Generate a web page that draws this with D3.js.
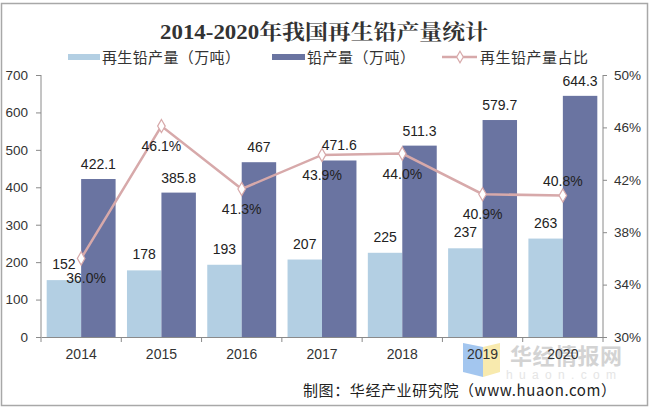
<!DOCTYPE html>
<html><head><meta charset="utf-8">
<script src="https://cdn.jsdelivr.net/npm/d3@7"></script>
<style>body{margin:0;background:#fff}svg{display:block}</style>
</head><body>
<svg id="c" width="650" height="410"></svg>
<script>
const years = ["2014","2015","2016","2017","2018","2019","2020"];
const recycled = [152,178,193,207,225,237,263];
const lead = [422.1,385.8,467,471.6,511.3,579.7,644.3];
const share = [36.0,46.1,41.3,43.9,44.0,40.9,40.8];
const leftTicks = [0,100,200,300,400,500,600,700];
const rightTicks = [30,34,38,42,46,50];
const seriesNames = ["再生铅产量（万吨）","铅产量（万吨）","再生铅产量占比"];

const W=650,H=410, m={l:41,r:47,t:75,b:73};
const svg=d3.select("#c");
const font="'Liberation Sans', Arial, 'Noto Sans CJK SC', sans-serif";
const cjk="'Noto Sans CJK SC', sans-serif";
const cLight="#b3cfe3", cDark="#6a74a1", cLine="#d7a9aa";

svg.append("rect").attr("x",1.5).attr("y",3.5).attr("width",646).attr("height",402)
  .attr("fill","#fff").attr("stroke","#a8a8a8").attr("stroke-width",1.5);

const x=d3.scaleBand().domain(years).range([m.l,W-m.r]).paddingInner(0).paddingOuter(0);
const xi=d3.scaleBand().domain(["r","l"]).range([0,x.bandwidth()]).paddingInner(0).paddingOuter(0.165);
const y=d3.scaleLinear().domain([0,700]).range([H-m.b,m.t]);
const y2=d3.scaleLinear().domain([30,50]).range([H-m.b,m.t]);

// title
svg.append("text").attr("x",160).attr("y",39)
  .attr("font-family","'Liberation Serif','Noto Serif CJK SC','Noto Sans CJK SC',serif").attr("font-weight","bold")
  .attr("font-size",21).attr("fill","#333").attr("textLength",328).attr("lengthAdjust","spacingAndGlyphs")
  .text("2014-2020年我国再生铅产量统计");

// legend
const lg=svg.append("g").attr("font-family",cjk).attr("font-size",15).attr("fill","#333");
lg.append("rect").attr("x",68).attr("y",54).attr("width",32).attr("height",6).attr("fill",cLight);
lg.append("text").attr("x",102).attr("y",63).attr("textLength",138).attr("lengthAdjust","spacing").text(seriesNames[0]);
lg.append("rect").attr("x",272).attr("y",54).attr("width",33).attr("height",6).attr("fill",cDark);
lg.append("text").attr("x",307).attr("y",63).attr("textLength",108).attr("lengthAdjust","spacing").text(seriesNames[1]);
lg.append("line").attr("x1",442).attr("x2",477).attr("y1",57).attr("y2",57).attr("stroke",cLine).attr("stroke-width",2.5);
lg.append("path").attr("d",d3.symbol(d3.symbolDiamond,38)()).attr("transform","translate(460,57)")
  .attr("fill","#fff").attr("stroke",cLine).attr("stroke-width",1.2);
lg.append("text").attr("x",480).attr("y",63).attr("textLength",108).attr("lengthAdjust","spacing").text(seriesNames[2]);

// watermark (behind axis labels)
const wm=svg.append("g").attr("opacity",0.8);
wm.append("path").attr("d","M463,343 L483,347 L483,377 L463,372 Z").attr("fill","#8db8ec");
wm.append("path").attr("d","M483,347 L500,343 L500,372 L483,377 Z").attr("fill","#f7e59a");
wm.append("text").attr("x",510).attr("y",364).attr("font-family",cjk).attr("font-size",22).attr("font-weight","bold")
  .attr("fill","#c9c9c9").attr("textLength",112).text("华经情报网");
wm.append("text").attr("x",506).attr("y",379).attr("font-family",font).attr("font-size",12).attr("textLength",110)
  .attr("fill","#e0e0e0").text("huaon.com");

// bars
const g=svg.append("g");
g.selectAll(".br").data(years).join("rect")
  .attr("x",d=>x(d)+xi("r")).attr("width",xi.bandwidth())
  .attr("y",(d,i)=>y(recycled[i])).attr("height",(d,i)=>y(0)-y(recycled[i])).attr("fill",cLight);
g.selectAll(".bl").data(years).join("rect").attr("class","bl")
  .attr("x",d=>x(d)+xi("l")).attr("width",xi.bandwidth())
  .attr("y",(d,i)=>y(lead[i])).attr("height",(d,i)=>y(0)-y(lead[i])).attr("fill",cDark);

// axes
const ax=svg.append("g").attr("font-family",font);
const ya=ax.append("g").attr("transform",`translate(${m.l},0)`).call(d3.axisLeft(y).tickValues(leftTicks).tickSize(5).tickPadding(8));
const ya2=ax.append("g").attr("transform",`translate(${W-m.r},0)`).call(d3.axisRight(y2).tickValues(rightTicks).tickSize(4).tickPadding(7).tickFormat(d=>d+"%"));
const xa=ax.append("g").attr("transform",`translate(0,${H-m.b})`).call(d3.axisBottom(x).tickSize(0).tickPadding(12));
xa.selectAll(".tick").append("line").attr("x1",-x.bandwidth()/2).attr("x2",-x.bandwidth()/2).attr("y2",5).attr("stroke","#888");
xa.append("line").attr("x1",W-m.r).attr("x2",W-m.r).attr("y2",5).attr("stroke","#888");
[ya,ya2,xa].forEach(a=>{
  a.selectAll(".domain").attr("stroke","#8a8a8a");
  a.selectAll(".tick line").attr("stroke","#8a8a8a");
  a.selectAll("text").attr("font-size",13.5).attr("fill","#333").attr("font-family",font);
});
xa.selectAll("text").attr("font-size",14);
ya.select(".domain").attr("d",`M0,${m.t}V${H-m.b}`);
ya2.select(".domain").attr("d",`M0,${m.t}V${H-m.b}`);

// line
const pts=years.map((d,i)=>[x(d)+x.bandwidth()/2,y2(share[i])]);
svg.append("path").attr("d",d3.line()(pts)).attr("fill","none").attr("stroke",cLine).attr("stroke-width",2.5);
svg.selectAll(".mk").data(pts).join("path").attr("d",d3.symbol(d3.symbolDiamond,50)())
  .attr("transform",d=>`translate(${d[0]},${d[1]})`).attr("fill","#fff").attr("stroke",cLine).attr("stroke-width",1.2);

// labels
const lb=svg.append("g").attr("font-family",font).attr("font-size",14).attr("fill","#222").attr("text-anchor","middle");
lb.selectAll(".lr").data(years).join("text").attr("x",d=>x(d)+xi("r")+xi.bandwidth()/2)
  .attr("y",(d,i)=>y(recycled[i])-11).text((d,i)=>recycled[i]);
lb.selectAll(".ll").data(years).join("text").attr("x",d=>x(d)+xi("l")+xi.bandwidth()/2)
  .attr("y",(d,i)=>y(lead[i])-10).text((d,i)=>lead[i]);
lb.selectAll(".lp").data(years).join("text").attr("x",(d,i)=>pts[i][0]+(i==0?5:0))
  .attr("y",(d,i)=>i==6 ? pts[i][1]-10 : pts[i][1]+25).text((d,i)=>share[i].toFixed(1)+"%");

// source
svg.append("text").attr("x",303).attr("y",396).attr("font-family",cjk)
  .attr("font-size",15).attr("fill","#222").attr("textLength",313).attr("lengthAdjust","spacing")
  .text("制图：华经产业研究院（www.huaon.com）");
</script>
</body></html>
